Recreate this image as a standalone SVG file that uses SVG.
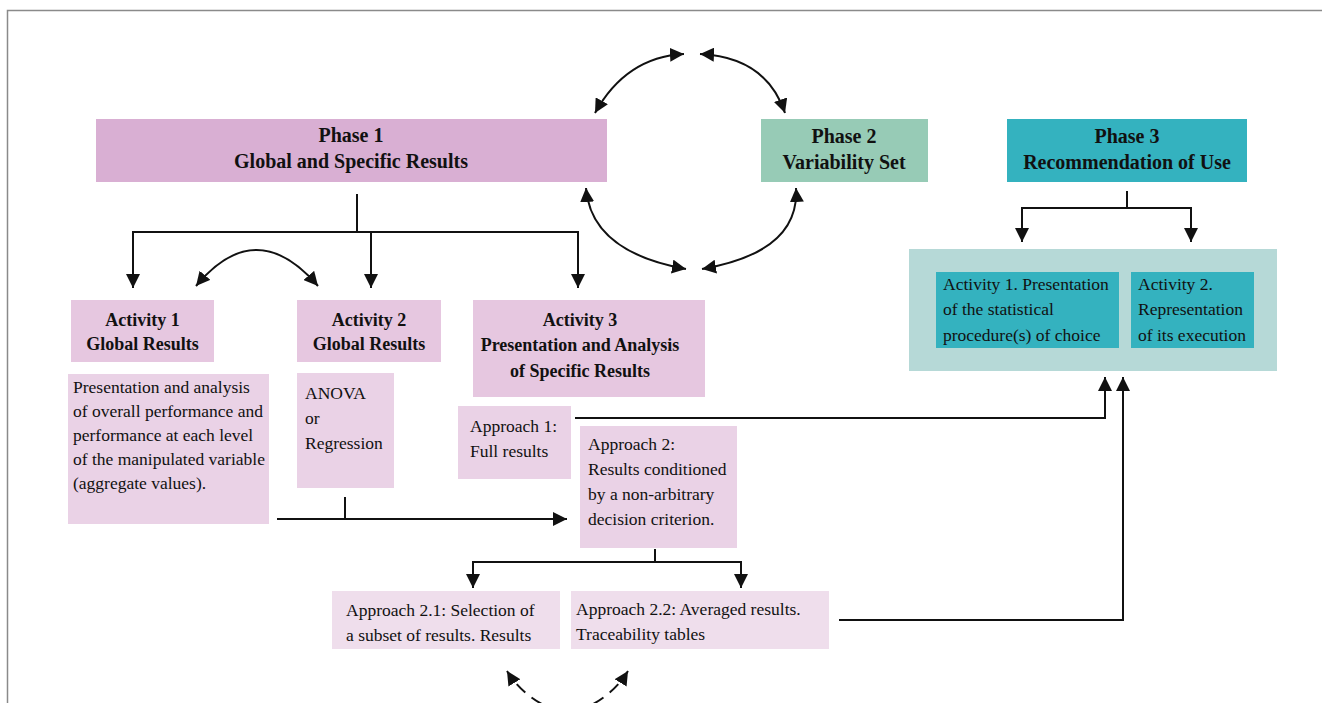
<svg xmlns="http://www.w3.org/2000/svg" width="1322" height="703" viewBox="0 0 1322 703">
<style>
.b{font-family:"Liberation Serif","Times New Roman",serif;font-weight:bold;fill:#111;text-anchor:middle}
.t{font-family:"Liberation Serif","Times New Roman",serif;fill:#111;font-size:17.5px}
.c{fill:none;stroke:#111;stroke-width:2}
.a{marker-end:url(#ah)}
.aa{marker-end:url(#ah);marker-start:url(#ah)}
</style>
<defs>
<marker id="ah" markerUnits="userSpaceOnUse" markerWidth="14" markerHeight="14" viewBox="0 0 12 12" refX="12" refY="6" orient="auto-start-reverse">
<path d="M0,0 L12,6 L0,12 z" fill="#111"/>
</marker>
</defs>
<rect width="1322" height="703" fill="#fff"/>
<path d="M7.5,703 V10.5 H1322" fill="none" stroke="#8a8a8a" stroke-width="1.5"/>

<g id="phase1">
<rect x="96" y="119" width="511" height="63" fill="#D9AFD3"/>
<text class="b" x="351" y="142" font-size="20">Phase 1</text>
<text class="b" x="351" y="168" font-size="20">Global and Specific Results</text>
</g>
<g id="phase2">
<rect x="761" y="119" width="167" height="63" fill="#97CBB6"/>
<text class="b" x="844" y="143" font-size="20">Phase 2</text>
<text class="b" x="844" y="169" font-size="20">Variability Set</text>
</g>
<g id="phase3">
<rect x="1007" y="119" width="240" height="63" fill="#34B2BF"/>
<text class="b" x="1127" y="143" font-size="20">Phase 3</text>
<text class="b" x="1127" y="169" font-size="20">Recommendation of Use</text>
</g>

<g id="activity1">
<rect x="71" y="300" width="143" height="62" fill="#E6C7E0"/>
<text class="b" x="142.5" y="326" font-size="18">Activity 1</text>
<text class="b" x="142.5" y="350" font-size="18">Global Results</text>
</g>
<g id="activity1-desc">
<rect x="68" y="374" width="201" height="150" fill="#EAD2E6"/>
<text class="t" x="73" y="393">Presentation and analysis</text>
<text class="t" x="73" y="417">of overall performance and</text>
<text class="t" x="73" y="441">performance at each level</text>
<text class="t" x="73" y="465">of the manipulated variable</text>
<text class="t" x="73" y="489">(aggregate values).</text>
</g>
<g id="activity2">
<rect x="297" y="300" width="144" height="62" fill="#E6C7E0"/>
<text class="b" x="369" y="326" font-size="18">Activity 2</text>
<text class="b" x="369" y="350" font-size="18">Global Results</text>
</g>
<g id="activity2-desc">
<rect x="297" y="373" width="97" height="115" fill="#EAD2E6"/>
<text class="t" x="305" y="399">ANOVA</text>
<text class="t" x="305" y="424">or</text>
<text class="t" x="305" y="449">Regression</text>
</g>
<g id="activity3">
<rect x="473" y="300" width="232" height="97" fill="#E6C7E0"/>
<text class="b" x="580" y="326" font-size="18">Activity 3</text>
<text class="b" x="580" y="351" font-size="18">Presentation and Analysis</text>
<text class="b" x="580" y="377" font-size="18">of Specific Results</text>
</g>
<g id="approach1">
<rect x="458" y="406" width="113" height="73" fill="#EAD2E6"/>
<text class="t" x="470" y="432">Approach 1:</text>
<text class="t" x="470" y="457">Full results</text>
</g>
<g id="approach2">
<rect x="580" y="426" width="157" height="122" fill="#EAD2E6"/>
<text class="t" x="588" y="450">Approach 2:</text>
<text class="t" x="588" y="475">Results conditioned</text>
<text class="t" x="588" y="500">by a non-arbitrary</text>
<text class="t" x="588" y="525">decision criterion.</text>
</g>
<g id="approach21">
<rect x="332" y="591" width="228" height="58" fill="#EFDEEC"/>
<text class="t" x="346" y="616">Approach 2.1: Selection of</text>
<text class="t" x="346" y="641">a subset of results. Results</text>
</g>
<g id="approach22">
<rect x="571" y="591" width="258" height="58" fill="#EFDEEC"/>
<text class="t" x="576" y="615">Approach 2.2: Averaged results.</text>
<text class="t" x="576" y="640">Traceability tables</text>
</g>
<g id="phase3-activities">
<rect x="909" y="249" width="368" height="122" fill="#B6D9D7"/>
<rect x="936" y="272" width="183" height="76" fill="#34B2BF"/>
<text class="t" x="943" y="290">Activity 1. Presentation</text>
<text class="t" x="943" y="315">of the statistical</text>
<text class="t" x="943" y="341">procedure(s) of choice</text>
<rect x="1131" y="272" width="123" height="76" fill="#34B2BF"/>
<text class="t" x="1138" y="290">Activity 2.</text>
<text class="t" x="1138" y="315">Representation</text>
<text class="t" x="1138" y="341">of its execution</text>
</g>

<g id="connectors">
<path class="c aa" d="M684,54 Q626,57 595,113"/>
<path class="c aa" d="M700,54 Q766,57 785,113"/>
<path class="c aa" d="M586,188 Q591,252 686,269"/>
<path class="c aa" d="M796,188 Q800,252 702,269"/>
<path class="c" d="M357,194 V232 M133,232 H578"/>
<path class="c a" d="M133,231 V288"/>
<path class="c a" d="M371,232 V288"/>
<path class="c a" d="M578,231 V288"/>
<path class="c aa" d="M196,286 Q256,214 318,286"/>
<path class="c" d="M1127,191 V208 M1022,208 H1191"/>
<path class="c a" d="M1022,207 V242"/>
<path class="c a" d="M1191,207 V242"/>
<path class="c a" d="M575,418 H1105 V377"/>
<path class="c a" d="M839,620 H1123 V377"/>
<path class="c" d="M345,497 V519"/>
<path class="c a" d="M277,519 H567"/>
<path class="c" d="M655,549 V562 M473,562 H741"/>
<path class="c a" d="M473,561 V588"/>
<path class="c a" d="M741,561 V588"/>
<path class="c a" d="M560,712 Q525,700 507,671" stroke-dasharray="12,8"/>
<path class="c a" d="M575,712 Q610,700 628,671" stroke-dasharray="12,8"/>
</g>
</svg>
